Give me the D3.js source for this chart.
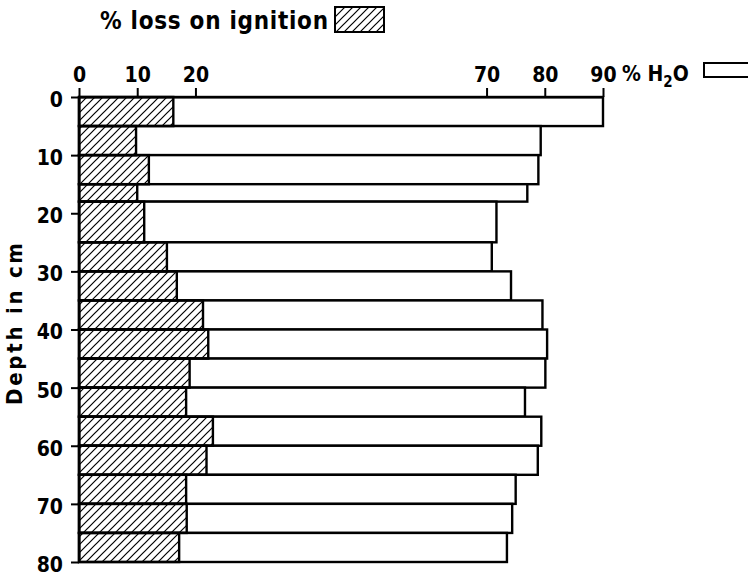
<!DOCTYPE html>
<html>
<head>
<meta charset="utf-8">
<script src="https://cdn.jsdelivr.net/npm/d3@7"></script>
<style>
  body { margin: 0; background: #fff; }
  text { font-family: "DejaVu Sans Condensed", "DejaVu Sans", sans-serif; font-weight: bold; fill: #000; }
</style>
</head>
<body>
<div id="chart"></div>
<script>
var width = 748
var height = 576

// depth intervals (cm) of each sample
var depthTop    = [0, 5, 10, 15, 18, 25, 30, 35, 40, 45, 50, 55, 60, 65, 70, 75]
var depthBottom = [5, 10, 15, 18, 25, 30, 35, 40, 45, 50, 55, 60, 65, 70, 75, 80]
// % loss on ignition (hatched) and % water (open)
var lossOnIgnition = [16.2, 9.8, 12.0, 10.0, 11.2, 15.1, 16.8, 21.3, 22.2, 19.0, 18.4, 23.0, 21.9, 18.4, 18.5, 17.2]
var water          = [90.0, 79.3, 78.9, 77.0, 71.7, 70.9, 74.2, 79.6, 80.4, 80.1, 76.6, 79.4, 78.8, 75.0, 74.4, 73.5]
var xTicks = [0, 10, 20, 70, 80, 90]
var yTicks = [0, 10, 20, 30, 40, 50, 60, 70, 80]

var data = depthTop.map(function(d, i) {
  return { top: d, bottom: depthBottom[i], loi: lossOnIgnition[i], h2o: water[i] }
})

var x = d3.scaleLinear().domain([0, 90]).range([79, 603])
var y = d3.scaleLinear().domain([0, 80]).range([97, 562])

var svg = d3.select("#chart")
  .append("svg")
    .attr("width", width)
    .attr("height", height)

var defs = svg.append("defs")
defs.append("pattern")
    .attr("id", "hatch")
    .attr("patternUnits", "userSpaceOnUse")
    .attr("width", 8)
    .attr("height", 8)
  .append("path")
    .attr("d", "M-2,2 L2,-2 M0,8 L8,0 M6,10 L10,6")
    .attr("stroke", "#000")
    .attr("stroke-width", 1.2)

var bars = svg.append("g")

// water bars from 0
bars.selectAll(".h2o")
  .data(data)
  .enter()
  .append("rect")
    .attr("class", "h2o")
    .attr("x", x(0))
    .attr("y", function(d) { return y(d.top) })
    .attr("width", function(d) { return x(d.h2o) - x(0) })
    .attr("height", function(d) { return y(d.bottom) - y(d.top) })
    .attr("fill", "#fff")
    .attr("stroke", "#000")
    .attr("stroke-width", 2.4)

// loss on ignition on top
bars.selectAll(".loi")
  .data(data)
  .enter()
  .append("rect")
    .attr("class", "loi")
    .attr("x", x(0))
    .attr("y", function(d) { return y(d.top) })
    .attr("width", function(d) { return x(d.loi) - x(0) })
    .attr("height", function(d) { return y(d.bottom) - y(d.top) })
    .attr("fill", "url(#hatch)")
    .attr("stroke", "#000")
    .attr("stroke-width", 2.4)

// axes
var xAxis = svg.append("g")
    .attr("transform", "translate(0," + y(0) + ")")
    .call(d3.axisTop(x).tickValues(xTicks).tickSize(9).tickSizeOuter(0).tickPadding(6))
var yAxis = svg.append("g")
    .attr("transform", "translate(" + x(0) + ",0)")
    .call(d3.axisLeft(y).tickValues(yTicks).tickSize(8).tickSizeOuter(0).tickPadding(8))

svg.selectAll(".domain, .tick line")
    .attr("stroke", "#000")
    .attr("stroke-width", 2)
svg.selectAll(".tick text")
    .style("font-family", "DejaVu Sans Condensed, DejaVu Sans, sans-serif")
    .style("font-weight", "bold")
    .style("font-size", "21px")
    .attr("fill", "#000")
yAxis.selectAll(".tick text").attr("dy", "0.45em")

// y label
svg.append("text")
    .attr("transform", "translate(22,324) rotate(-90)")
    .attr("text-anchor", "middle")
    .attr("textLength", 162)
    .attr("lengthAdjust", "spacing")
    .style("font-size", "22px")
    .text("Depth in cm")

// legend: loss on ignition
svg.append("text")
    .attr("x", 100)
    .attr("y", 29)
    .attr("textLength", 228)
    .attr("lengthAdjust", "spacing")
    .style("font-size", "24px")
    .text("% loss on ignition")
svg.append("rect")
    .attr("x", 335)
    .attr("y", 7)
    .attr("width", 49)
    .attr("height", 25)
    .attr("fill", "url(#hatch)")
    .attr("stroke", "#000")
    .attr("stroke-width", 2)

// legend: water
var h2o = svg.append("text")
    .attr("x", 622)
    .attr("y", 81)
    .style("font-size", "21px")
h2o.append("tspan").text("% H")
h2o.append("tspan").attr("dy", 6).style("font-size", "15px").text("2")
h2o.append("tspan").attr("dy", -6).text("O")
svg.append("rect")
    .attr("x", 704)
    .attr("y", 63)
    .attr("width", 60)
    .attr("height", 14)
    .attr("fill", "#fff")
    .attr("stroke", "#000")
    .attr("stroke-width", 2)
</script>
</body>
</html>
